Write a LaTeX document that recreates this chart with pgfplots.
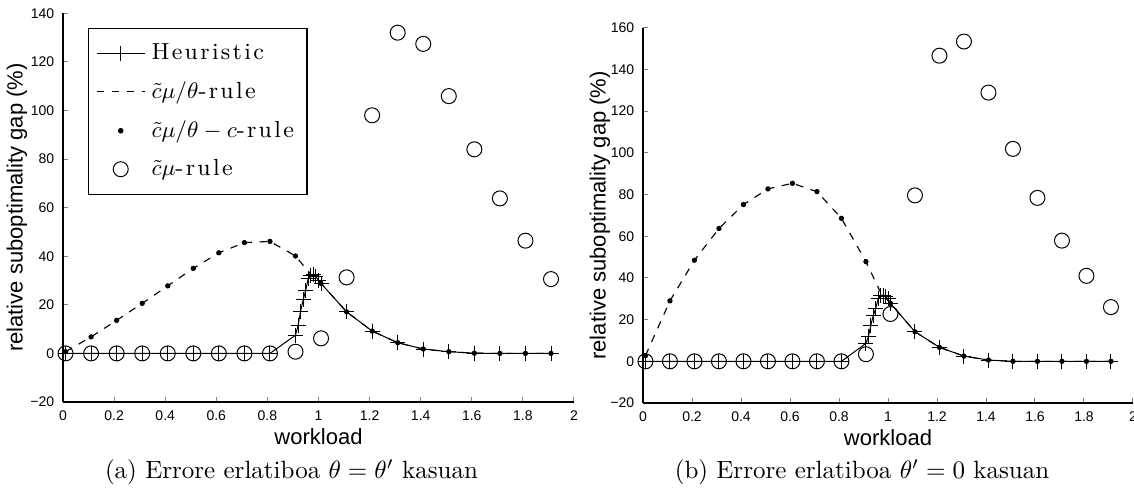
\documentclass[border=0pt]{standalone}
\usepackage{fontspec}
\setmainfont{Latin Modern Roman}
\newfontfamily\helv{Liberation Sans}
\newfontfamily\legfont{Latin Modern Roman}[LetterSpace=10]
\usepackage{pgfplots}
\pgfplotsset{compat=1.18}
\pgfplotsset{
  myaxis/.style={
    scale only axis,
    axis lines=left,
    axis line style={-, line width=0.5pt},
    tick align=inside,
    major tick length=2pt,
    tick style={line width=0.4pt},
    xmin=0, xmax=2,
    xtick={0,0.2,0.4,0.6,0.8,1,1.2,1.4,1.6,1.8,2},
    xticklabels={0,0.2,0.4,0.6,0.8,1,1.2,1.4,1.6,1.8,2},
    tick label style={font=\helv\fontsize{5.6}{6}\selectfont},
    label style={font=\helv\fontsize{8.8}{10}\selectfont},
    xlabel={workload},
    ylabel={relative suboptimality gap (\%)},
    xlabel style={at={(axis description cs:0.5,0)}, anchor=center, yshift=-14pt},
    clip=false,
    legend image code/.code={\draw[mark repeat=2,mark phase=2] plot coordinates {(0pt,0pt) (9.6pt,0pt) (19.2pt,0pt)};},
  },
  heur/.style={black, line width=0.4pt, mark=+, mark size=3pt},
  dashr/.style={black, line width=0.45pt, dash pattern=on 3pt off 3pt},
  dotr/.style={black, only marks, mark=*, mark size=0.85pt},
  circr/.style={black, only marks, mark=o, mark size=3pt, mark options={line width=0.4pt}},
}
\begin{document}
\begin{tikzpicture}
\path[use as bounding box] (0,0) rectangle (453.6pt,196.4pt);
% ---------- left ----------
\begin{axis}[myaxis,
  at={(25.2pt,35.6pt)}, anchor=south west,
  width=204.4pt, height=155.5pt,
  ymin=-20, ymax=140,
  ytick={-20,0,20,40,60,80,100,120,140},
  yticklabels={−20,0,20,40,60,80,100,120,140},
  ylabel style={at={(axis description cs:-0.090,0.5)}, anchor=center},
  legend style={at={(axis description cs:0.048,0.962)}, anchor=north west,
    draw=black, line width=0.5pt, fill=white,
    font=\fontsize{9.3}{10}\selectfont, row sep=3.3pt, column sep=0.5pt,
    inner xsep=3.2pt, inner ysep=4pt, cells={anchor=west}},
]
\addplot[heur] coordinates {(0.01,0)(0.11,0)(0.21,0)(0.31,0)(0.41,0)(0.51,0)(0.61,0)(0.71,0)(0.81,0)(0.91,7.5)(0.92,11.4)(0.93,17.4)(0.94,22)(0.95,26)(0.96,31)(0.97,32)(0.98,32.5)(0.99,31.5)(1.00,30)(1.01,28.8)(1.11,17.1)(1.21,9.2)(1.31,4.4)(1.41,1.8)(1.51,0.7)(1.61,0.1)(1.71,0)(1.81,0)(1.91,0)};
\addlegendentry{{\legfont Heuristic}}
\addplot[dashr] coordinates {(0.01,0.7)(0.11,6.8)(0.21,13.6)(0.31,20.6)(0.41,27.8)(0.51,35.0)(0.61,41.4)(0.71,45.6)(0.81,46.1)(0.91,40.1)(0.97,32.5)(1.01,28.8)(1.11,17.1)(1.21,9.2)(1.31,4.4)(1.41,1.8)(1.51,0.7)(1.61,0.1)(1.71,0)(1.81,0)(1.91,0)};
\addlegendentry{$\tilde{c}\mu/\theta${\legfont -rule}}
\addplot[dotr] coordinates {(0.01,0.7)(0.11,6.8)(0.21,13.6)(0.31,20.6)(0.41,27.8)(0.51,35.0)(0.61,41.4)(0.71,45.6)(0.81,46.1)(0.91,40.1)(1.01,28.8)(1.11,17.1)(1.21,9.2)(1.31,4.4)(1.41,1.8)(1.51,0.7)(1.61,0.1)(1.71,0)(1.81,0)(1.91,0)};
\addlegendentry{$\tilde{c}\mu/\theta-c${\legfont -rule}\hspace{6pt}}
\addplot[circr] coordinates {(0.01,0)(0.11,0)(0.21,0)(0.31,0)(0.41,0)(0.51,0)(0.61,0)(0.71,0)(0.81,0)(0.91,0.7)(1.01,6.2)(1.11,31.3)(1.21,98)(1.31,132)(1.41,127.4)(1.51,105.9)(1.61,84)(1.71,63.8)(1.81,46.4)(1.91,30.6)};
\addlegendentry{$\tilde{c}\mu${\legfont -rule}}
\end{axis}
% ---------- right ----------
\begin{axis}[myaxis,
  at={(257.2pt,35.2pt)}, anchor=south west,
  width=196pt, height=150.1pt,
  ymin=-20, ymax=160,
  ytick={-20,0,20,40,60,80,100,120,140,160},
  yticklabels={−20,0,20,40,60,80,100,120,140,160},
  ylabel style={at={(axis description cs:-0.0878,0.5)}, anchor=center},
]
\addplot[heur] coordinates {(0.01,0)(0.11,0)(0.21,0)(0.31,0)(0.41,0)(0.51,0)(0.61,0)(0.71,0)(0.81,0)(0.91,8.6)(0.92,11.8)(0.93,17.4)(0.94,22)(0.95,25.4)(0.96,30)(0.97,31.5)(0.98,31.8)(0.99,31)(1.00,30)(1.01,27.8)(1.11,14.2)(1.21,6.7)(1.31,2.5)(1.41,0.6)(1.51,0)(1.61,0)(1.71,0)(1.81,0)(1.91,0)};
\addplot[dashr] coordinates {(0.01,2.7)(0.11,29)(0.21,48.5)(0.31,63.7)(0.41,75.2)(0.51,82.7)(0.61,85.4)(0.71,81.4)(0.81,68.6)(0.91,47.8)(0.97,33)(1.01,27.8)(1.11,14.2)(1.21,6.7)(1.31,2.5)(1.41,0.6)(1.51,0)(1.61,0)(1.71,0)(1.81,0)(1.91,0)};
\addplot[dotr] coordinates {(0.01,2.7)(0.11,29)(0.21,48.5)(0.31,63.7)(0.41,75.2)(0.51,82.7)(0.61,85.4)(0.71,81.4)(0.81,68.6)(0.91,47.8)(1.01,27.8)(1.11,14.2)(1.21,6.7)(1.31,2.5)(1.41,0.6)(1.51,0)(1.61,0)(1.71,0)(1.81,0)(1.91,0)};
\addplot[circr] coordinates {(0.01,0)(0.11,0)(0.21,0)(0.31,0)(0.41,0)(0.51,0)(0.61,0)(0.71,0)(0.81,0)(0.91,3.4)(1.01,22.7)(1.11,79.6)(1.21,146.6)(1.31,153.4)(1.41,128.9)(1.51,101.9)(1.61,78.4)(1.71,57.9)(1.81,41)(1.91,26)};
\end{axis}
\node[font=\fontsize{10}{12}\selectfont] at (116.6pt,7.6pt) {(a) Errore erlatiboa $\theta=\theta'$ kasuan};
\node[font=\fontsize{10}{12}\selectfont] at (344.8pt,7.6pt) {(b) Errore erlatiboa $\theta'=0$ kasuan};
\end{tikzpicture}
\end{document}
